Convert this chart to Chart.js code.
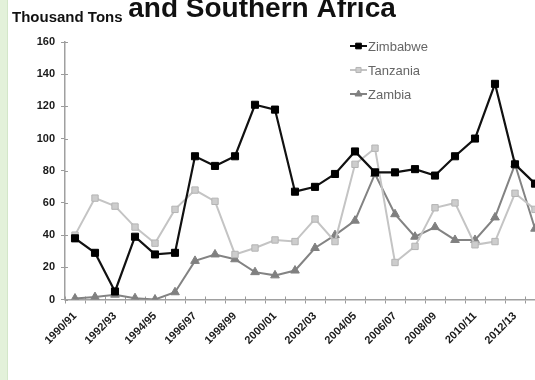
<!DOCTYPE html>
<html>
<head>
<meta charset="utf-8">
<script src="https://cdn.jsdelivr.net/npm/chart.js@4/dist/chart.umd.min.js"></script>
<style>
  html, body { margin: 0; padding: 0; width: 535px; height: 380px; overflow: hidden; background: #fff; }
  #wrap { position: absolute; left: 0; top: 0; width: 560px; height: 380px; }
  #strip { position: absolute; left: 0; top: 0; width: 7px; height: 380px; background: #e3f1da; border-right: 1px solid #d3e6c9; }
</style>
</head>
<body>
<div id="wrap"><canvas id="c" width="560" height="380"></canvas></div>
<div id="strip"></div>
<script>
// Seasons (marketing years)
const seasons = [
  '1990/91', '1991/92', '1992/93', '1993/94', '1994/95', '1995/96',
  '1996/97', '1997/98', '1998/99', '1999/00', '2000/01', '2001/02',
  '2002/03', '2003/04', '2004/05', '2005/06', '2006/07', '2007/08',
  '2008/09', '2009/10', '2010/11', '2011/12', '2012/13', '2013/14'
];

// Production, thousand tons
const zimbabwe = [38, 29, 5, 39, 28, 29, 89, 83, 89, 121, 118, 67, 70, 78, 92, 79, 79, 81, 77, 89, 100, 134, 84, 72];
const tanzania = [40, 63, 58, 45, 35, 56, 68, 61, 28, 32, 37, 36, 50, 36, 84, 94, 23, 33, 57, 60, 34, 36, 66, 56];
const zambia   = [0.6, 1.5, 3, 0.8, 0, 4.5, 24, 28, 25, 17, 15, 18, 32, 40, 49, 78, 53, 39, 45, 37, 37, 51, 84, 44];

// Y axis range and step
const yMin = 0;
const yMax = 160;
const yStep = 20;

// Only every second season gets a label on the x axis
const labelEvery = 2;

const titleLine = 'and Southern Africa';
const unitLabel = 'Thousand Tons';

const FONT = '"Liberation Sans", Arial, Helvetica, sans-serif';

// Heading text drawn over the canvas
const headingPlugin = {
  id: 'heading',
  afterDraw(chart) {
    const ctx = chart.ctx;
    ctx.save();
    ctx.fillStyle = '#111';
    ctx.textBaseline = 'alphabetic';
    ctx.textAlign = 'center';
    ctx.font = 'bold 28px ' + FONT;
    ctx.fillText(titleLine, 262, 17);
    ctx.textAlign = 'left';
    ctx.font = 'bold 15px ' + FONT;
    ctx.fillText(unitLabel, 12, 22);
    ctx.restore();
  }
};

// Legend: line sample with its marker, then the series name
const lineLegendPlugin = {
  id: 'lineLegend',
  afterDraw(chart) {
    const ctx = chart.ctx;
    const x0 = 350, x1 = 367, y0 = 46, gap = 24;
    ctx.save();
    chart.data.datasets.forEach((ds, i) => {
      const y = y0 + i * gap;
      ctx.strokeStyle = ds.borderColor;
      ctx.lineWidth = 2;
      ctx.beginPath();
      ctx.moveTo(x0, y);
      ctx.lineTo(x1, y);
      ctx.stroke();
      ctx.fillStyle = ds.pointBackgroundColor;
      ctx.strokeStyle = ds.pointBorderColor;
      ctx.lineWidth = 1;
      Chart.helpers.drawPoint(ctx, { pointStyle: ds.pointStyle, radius: ds.pointRadius * 0.8, borderWidth: 1 }, (x0 + x1) / 2, y);
      ctx.fillStyle = '#666';
      ctx.font = '13px ' + FONT;
      ctx.textAlign = 'left';
      ctx.textBaseline = 'middle';
      ctx.fillText(ds.label, x1 + 1, y + 1);
    });
    ctx.restore();
  }
};

// Short tick marks on the inner side of both axes, so they cross the axis lines
const innerTicksPlugin = {
  id: 'innerTicks',
  beforeDatasetsDraw(chart) {
    const ctx = chart.ctx;
    const xs = chart.scales.x, ys = chart.scales.y;
    const area = chart.chartArea;
    const step = xs.getPixelForTick(1) - xs.getPixelForTick(0);
    ctx.save();
    ctx.strokeStyle = '#9a9a9a';
    ctx.lineWidth = 1;
    ctx.beginPath();
    for (let v = yMin; v <= yMax; v += yStep) {
      const py = Math.round(ys.getPixelForValue(v)) + 0.5;
      ctx.moveTo(area.left, py);
      ctx.lineTo(area.left + 3, py);
    }
    for (let i = 0; i <= seasons.length; i++) {
      const px = Math.round(xs.getPixelForTick(0) - step / 2 + i * step) + 0.5;
      ctx.moveTo(px, area.bottom);
      ctx.lineTo(px, area.bottom - 3);
    }
    ctx.stroke();
    ctx.restore();
  }
};

new Chart(document.getElementById('c'), {
  type: 'line',
  data: {
    labels: seasons,
    datasets: [
      {
        label: 'Zimbabwe',
        data: zimbabwe,
        borderColor: '#111111',
        borderWidth: 2.2,
        pointStyle: 'rect',
        pointRadius: 5,
        pointBackgroundColor: '#000000',
        pointBorderColor: '#000000',
        pointBorderWidth: 1,
        tension: 0
      },
      {
        label: 'Tanzania',
        data: tanzania,
        borderColor: '#c4c4c4',
        borderWidth: 2,
        pointStyle: 'rect',
        pointRadius: 4.5,
        pointBackgroundColor: '#cdcdcd',
        pointBorderColor: '#b4b4b4',
        pointBorderWidth: 1,
        tension: 0
      },
      {
        label: 'Zambia',
        data: zambia,
        borderColor: '#838383',
        borderWidth: 2,
        pointStyle: 'triangle',
        pointRadius: 5,
        pointBackgroundColor: '#808080',
        pointBorderColor: '#808080',
        pointBorderWidth: 1,
        tension: 0
      }
    ]
  },
  options: {
    responsive: false,
    animation: false,
    devicePixelRatio: 1,
    layout: { padding: { top: 42, right: 15, bottom: 0, left: 0 } },
    plugins: {
      legend: { display: false },
      tooltip: { enabled: false },
      title: { display: false }
    },
    scales: {
      x: {
        offset: true,
        afterFit(scale) { scale.height = 80.5; },
        grid: {
          offset: true,
          drawOnChartArea: false,
          drawTicks: true,
          tickLength: 4,
          color: '#9a9a9a'
        },
        border: { display: true, color: '#a0a0a0', width: 1.5 },
        ticks: {
          autoSkip: false,
          maxRotation: 45,
          minRotation: 45,
          padding: 6,
          color: '#1a1a1a',
          font: { family: FONT, size: 11, weight: 'bold' },
          callback(value, index) {
            return index % labelEvery === 0 ? seasons[index] : '';
          }
        }
      },
      y: {
        min: yMin,
        max: yMax,
        afterFit(scale) { scale.width = 65; },
        grid: {
          drawOnChartArea: false,
          drawTicks: true,
          tickLength: 4,
          color: '#9a9a9a'
        },
        border: { display: true, color: '#a0a0a0', width: 1.5 },
        ticks: {
          stepSize: yStep,
          padding: 6,
          color: '#1a1a1a',
          font: { family: FONT, size: 11, weight: 'bold' }
        }
      }
    }
  },
  plugins: [innerTicksPlugin, headingPlugin, lineLegendPlugin]
});
</script>
</body>
</html>
